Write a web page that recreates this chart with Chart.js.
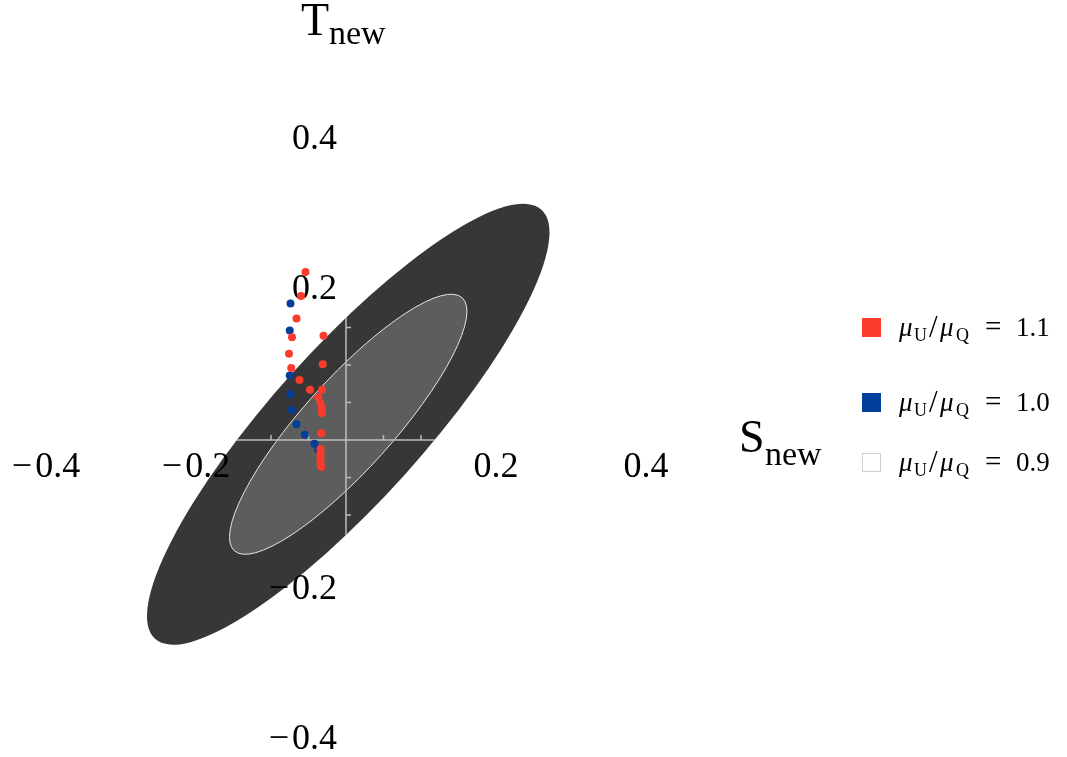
<!DOCTYPE html>
<html>
<head>
<meta charset="utf-8">
<script src="https://cdn.jsdelivr.net/npm/chart.js@4"></script>
<style>
html, body { margin: 0; padding: 0; background: #fff; }
</style>
</head>
<body>
<canvas id="chart" width="1067" height="757"></canvas>
<script>
// mu_U/mu_Q = 1.1 (red) and 1.0 (blue); 0.9 has no visible points
const redS = [-0.054, -0.060, -0.066, -0.072, -0.076, -0.073, -0.062, -0.030, -0.031, -0.048, -0.032,
              -0.037, -0.034, -0.032, -0.032, -0.033, -0.034, -0.034, -0.034, -0.034, -0.034, -0.033];
const redT = [0.224, 0.192, 0.162, 0.137, 0.115, 0.096, 0.080, 0.139, 0.101, 0.067, 0.067,
              0.057, 0.049, 0.042, 0.036, 0.009, -0.012, -0.017, -0.021, -0.026, -0.031, -0.036];
const blueS = [-0.074, -0.075, -0.075, -0.074, -0.072, -0.066, -0.055, -0.042, -0.037];
const blueT = [0.182, 0.146, 0.086, 0.061, 0.040, 0.021, 0.007, -0.005, -0.013];
const whiteS = [];
const whiteT = [];

const ratios = ['1.1', '1.0', '0.9'];
const tickValues = [-0.4, -0.2, 0.2, 0.4];
const innerTicks = [-0.15, -0.1, -0.05, 0.05, 0.1, 0.15];

// ellipse: centre (S, T), semi-major, semi-minor, tilt in degrees
const ellipseCentre = [0.003, 0.021];
const outerEllipse = [0.385, 0.101, 48];
const innerEllipse = [0.227, 0.060, 48];

const serif = 'Liberation Serif';

function toPoints(xs, ys) {
    return xs.map((x, i) => ({x: x, y: ys[i]}));
}

function fmt(v) {
    return (v < 0 ? '\u2212\u200a' : '') + Math.abs(v).toFixed(1);
}

function ellipsePath(c, xs, ys, e) {
    const cx = xs.getPixelForValue(ellipseCentre[0]);
    const cy = ys.getPixelForValue(ellipseCentre[1]);
    const rx = Math.abs(xs.getPixelForValue(e[0]) - xs.getPixelForValue(0));
    const ry = Math.abs(ys.getPixelForValue(e[1]) - ys.getPixelForValue(0));
    c.beginPath();
    c.ellipse(cx, cy, rx, ry, -e[2] * Math.PI / 180, 0, 2 * Math.PI);
}

function subText(c, x, y, parts) {
    // parts: [text, font, dy, x offset]
    for (const p of parts) {
        c.font = p[1];
        c.fillText(p[0], x + p[3], y + p[2]);
    }
}

const backdrop = {
    id: 'backdrop',
    beforeDraw(chart) {
        const c = chart.ctx;
        const xs = chart.scales.x, ys = chart.scales.y;
        c.save();
        ellipsePath(c, xs, ys, outerEllipse);
        c.fillStyle = '#373737';
        c.fill();
        ellipsePath(c, xs, ys, innerEllipse);
        c.fillStyle = '#5d5d5d';
        c.fill();
        c.strokeStyle = '#e6e6e6';
        c.lineWidth = 1;
        c.stroke();

        // light axes, only visible on the dark region
        ellipsePath(c, xs, ys, outerEllipse);
        c.clip();
        const x0 = xs.getPixelForValue(0), y0 = ys.getPixelForValue(0);
        c.strokeStyle = '#bdbdbd';
        c.lineWidth = 1.5;
        c.beginPath();
        c.moveTo(chart.chartArea.left, y0);
        c.lineTo(chart.chartArea.right, y0);
        c.moveTo(x0, chart.chartArea.top);
        c.lineTo(x0, chart.chartArea.bottom);
        for (const t of innerTicks) {
            const px = xs.getPixelForValue(t);
            c.moveTo(px, y0);
            c.lineTo(px, y0 - 5);
            const py = ys.getPixelForValue(t);
            c.moveTo(x0, py);
            c.lineTo(x0 + 5, py);
        }
        c.stroke();
        c.restore();
    },
    afterDraw(chart) {
        const c = chart.ctx;
        c.save();
        c.fillStyle = '#000';
        c.textBaseline = 'alphabetic';
        c.textAlign = 'left';
        subText(c, 301, 35, [['T', '46px ' + serif, 0, 0], ['new', '34px ' + serif, 9, 28]]);
        subText(c, 739, 452, [['S', '46px ' + serif, 0, 0], ['new', '34px ' + serif, 13, 26]]);

        const colors = ['#fb3b2c', '#043e9b', '#ffffff'];
        const rows = [336, 411, 471];
        for (let i = 0; i < ratios.length; i++) {
            const y = rows[i];
            c.fillStyle = colors[i];
            c.fillRect(862, y - 18, 19, 19);
            c.strokeStyle = i === 2 ? '#cfcfcf' : colors[i];
            c.lineWidth = 1;
            c.strokeRect(862.5, y - 17.5, 18, 18);
            c.fillStyle = '#000';
            subText(c, 899, y, [
                ['\u03bc', 'italic 27px ' + serif, 0, 0],
                ['U', '18px ' + serif, 5, 15],
                ['/', '31px ' + serif, 1, 30],
                ['\u03bc', 'italic 27px ' + serif, 0, 41],
                ['Q', '18px ' + serif, 5, 57],
                ['=', '29px ' + serif, 0, 86],
                [ratios[i], '27px ' + serif, 0, 117]
            ]);
        }
        c.restore();
    }
};

const tickFont = {family: serif, size: 36};

function noPad(scale) {
    scale.paddingTop = 0;
    scale.paddingBottom = 0;
    scale.paddingLeft = 0;
    scale.paddingRight = 0;
}

new Chart(document.getElementById('chart'), {
    type: 'scatter',
    data: {
        datasets: [
            {label: ratios[0], data: toPoints(redS, redT), backgroundColor: '#fb3b2c', borderWidth: 0, pointRadius: 4},
            {label: ratios[1], data: toPoints(blueS, blueT), backgroundColor: '#043e9b', borderWidth: 0, pointRadius: 4},
            {label: ratios[2], data: toPoints(whiteS, whiteT), backgroundColor: '#ffffff', borderWidth: 0, pointRadius: 4}
        ]
    },
    options: {
        responsive: false,
        animation: false,
        layout: {autoPadding: false, padding: {left: 0, right: 367, top: 0, bottom: 0}},
        plugins: {legend: {display: false}, tooltip: {enabled: false}},
        scales: {
            x: {
                type: 'linear', min: -0.4613, max: 0.472, position: {y: 0},
                grid: {display: false, drawTicks: false}, border: {display: false},
                afterBuildTicks: s => { s.ticks = tickValues.map(v => ({value: v})); },
                afterFit: noPad,
                ticks: {callback: fmt, font: tickFont, color: '#000', padding: 6, maxRotation: 0, autoSkip: false}
            },
            y: {
                // labels sit a little left of the S = 0 line
                type: 'linear', min: -0.42267, max: 0.58667, position: {x: -0.012},
                grid: {display: false, drawTicks: false}, border: {display: false},
                afterBuildTicks: s => { s.ticks = tickValues.map(v => ({value: v})); },
                afterFit: noPad,
                ticks: {callback: fmt, font: tickFont, color: '#000', padding: 0, autoSkip: false}
            }
        }
    },
    plugins: [backdrop]
});
</script>
</body>
</html>
